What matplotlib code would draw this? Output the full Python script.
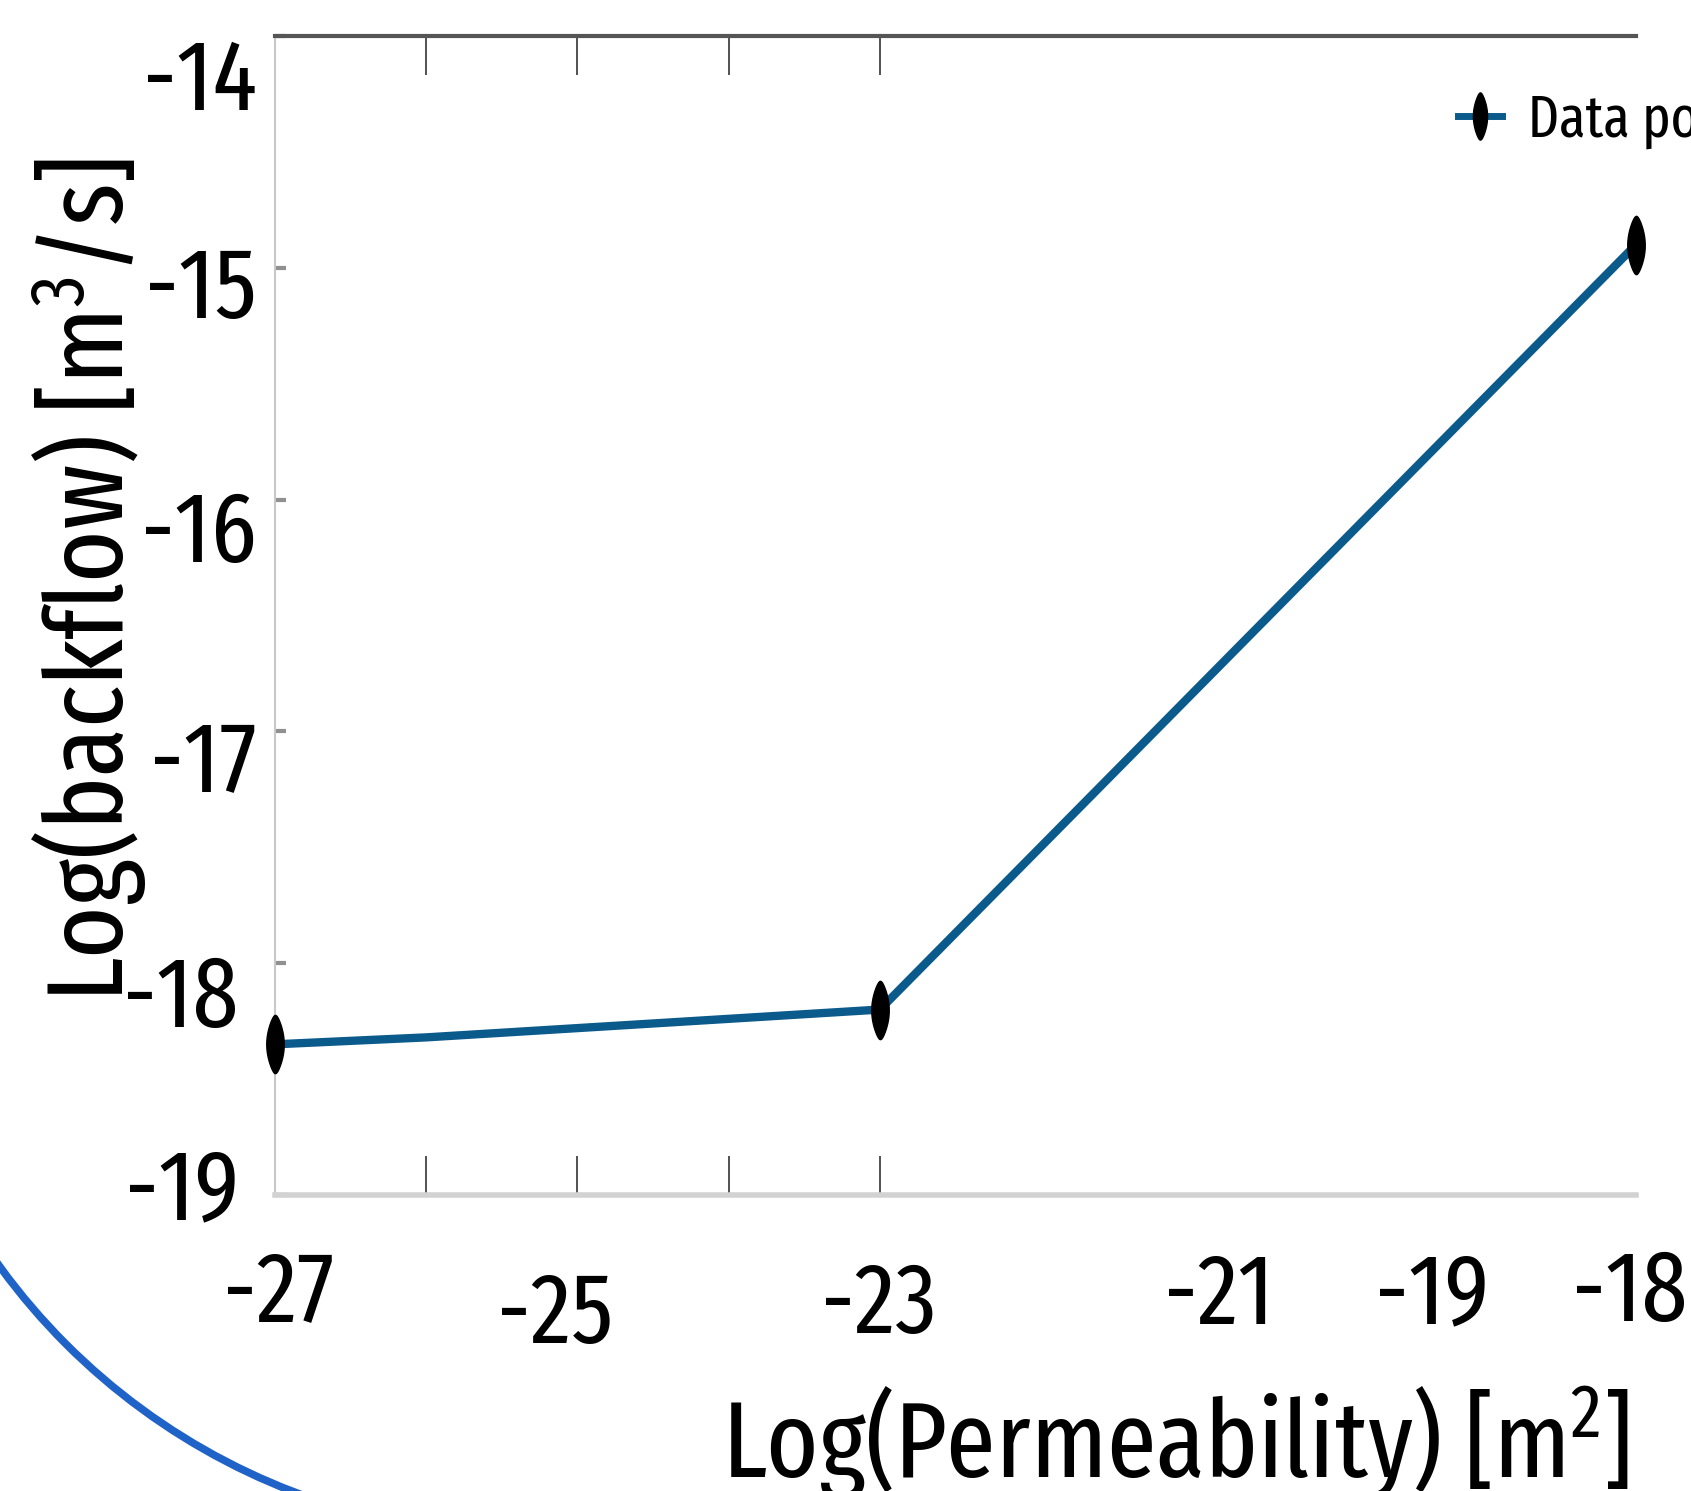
import numpy as np
import matplotlib
matplotlib.use('Agg')
import matplotlib.pyplot as plt
from matplotlib import font_manager
from matplotlib.patches import Arc
from matplotlib.transforms import ScaledTranslation

# ---------------- data ----------------
x_line = [-27, -26, -25, -24, -23, -18]
y_line = [-18.35, -18.32, -18.28, -18.24, -18.20, -14.90]
x_points = [-27, -23, -18]
y_points = [-18.35, -18.20, -14.90]
legend_label = "Data points"
ytick_values = [-14, -15, -16, -17, -18, -19]
ytick_labels = ["-14", "-15", "-16", "-17", "-18", "-19"]
xtick_labels = ["-27", "-25", "-23", "-21", "-19", "-18"]
xtick_label_pos = [-26.98, -25.15, -23.01, -20.76, -19.35, -18.04]
xminor_ticks = [-26, -25, -24, -23]
yminor_ticks = [-16, -17, -18]
xlabel = "Log(Permeability) [m$^2$]"
ylabel = "Log(backflow) [m$^3$/s]"

# --------------- layout ---------------
W, H, DPI = 1691, 1491, 100
ytick_dx = [0, 0, 0, 0, -19, -18]
ytick_dy = [47, 23, 35, 34, 37, -3]
xtick_dy = [0, 22, 12, 3, 3, 0]

names = sorted({f.name for f in font_manager.fontManager.ttflist})
cands = ["Fira Sans Extra Condensed", "Fira Sans Condensed", "Roboto Condensed", "DejaVu Sans"]
font = next(c for c in cands if c in names)
plt.rcParams['font.family'] = [font, 'DejaVu Sans']
plt.rcParams['mathtext.fontset'] = 'custom'
plt.rcParams['mathtext.rm'] = font
plt.rcParams['mathtext.it'] = font

fig = plt.figure(figsize=(W / DPI, H / DPI), dpi=DPI)
fig.patch.set_facecolor('white')

# decorative arc in pixel space
bg = fig.add_axes([0, 0, 1, 1], zorder=0)
bg.set_xlim(0, W)
bg.set_ylim(H, 0)
bg.axis('off')
bg.add_patch(Arc((527, 883), 2 * 652, 2 * 652, theta1=100, theta2=170,
                 color='#1f62c8', lw=5.5))

ax = fig.add_axes([275 / W, 1 - 1195 / H, (1636 - 275) / W, (1195 - 36) / H], zorder=1)
ax.patch.set_alpha(0)
ax.set_xlim(-27, -18)
ax.set_ylim(-19, -14)

ax.plot(x_line, y_line, color='#0b5a8c', lw=6, solid_capstyle='round', zorder=2)
t = np.linspace(0, 2 * np.pi, 60)
ell = np.column_stack([0.3 * np.cos(t) * (1 - 0.35 * np.sin(t) ** 2), np.sin(t)])
ax.plot(x_points, y_points, ls='none', marker=ell, ms=42, color='black',
        zorder=3, clip_on=False)

h_line, = ax.plot([], [], color='#0b5a8c', lw=5, marker=ell, ms=34, mfc='black', mec='black')
fig.legend([h_line], [legend_label], loc='center left', bbox_to_anchor=(1458 / W, 1 - 120 / H),
           frameon=False, fontsize=42, handlelength=0.75, handletextpad=0.45,
           borderpad=0, borderaxespad=0)

ax.spines['top'].set_color('#555555')
ax.spines['top'].set_linewidth(3)
ax.spines['left'].set_color('#c8c8c8')
ax.spines['left'].set_linewidth(1.5)
ax.spines['bottom'].set_color('#d2d2d2')
ax.spines['bottom'].set_linewidth(4)
ax.spines['right'].set_visible(False)

ax.set_xticks(xtick_label_pos)
ax.set_xticklabels(xtick_labels, fontsize=72, va='center')
ax.tick_params(axis='x', which='major', length=0, pad=71)
ax.set_xticks(xminor_ticks, minor=True)
ax.tick_params(axis='x', which='minor', direction='in', length=28, width=1.2,
               color='#333333', top=True, bottom=True)

ax.set_yticks(ytick_values)
ax.set_yticklabels(ytick_labels, fontsize=72, va='center')
ax.tick_params(axis='y', which='major', direction='in', length=8, width=3,
               color='#909090', pad=13, left=True, right=False)
ax.set_yticks(yminor_ticks, minor=True)
ax.tick_params(axis='y', which='minor', direction='in', length=9, width=4,
               color='#7a7a7a', left=False, right=True)

for lab, dy in zip(ax.get_xticklabels(), xtick_dy):
    lab.set_transform(lab.get_transform() + ScaledTranslation(0, -dy / DPI, fig.dpi_scale_trans))
for lab, dx, dy in zip(ax.get_yticklabels(), ytick_dx, ytick_dy):
    lab.set_transform(lab.get_transform() + ScaledTranslation(dx / DPI, -dy / DPI, fig.dpi_scale_trans))

ax.set_xlabel(xlabel, fontsize=78, ha='center', va='baseline')
ax.xaxis.set_label_coords((1176 - 275) / 1361, (1195 - 1478) / 1159)
ax.set_ylabel(ylabel, fontsize=78, ha='center', va='center')
ax.yaxis.set_label_coords((90 - 275) / 1361, (1195 - 580) / 1159)

fig.savefig('out.png', dpi=DPI, facecolor='white')
